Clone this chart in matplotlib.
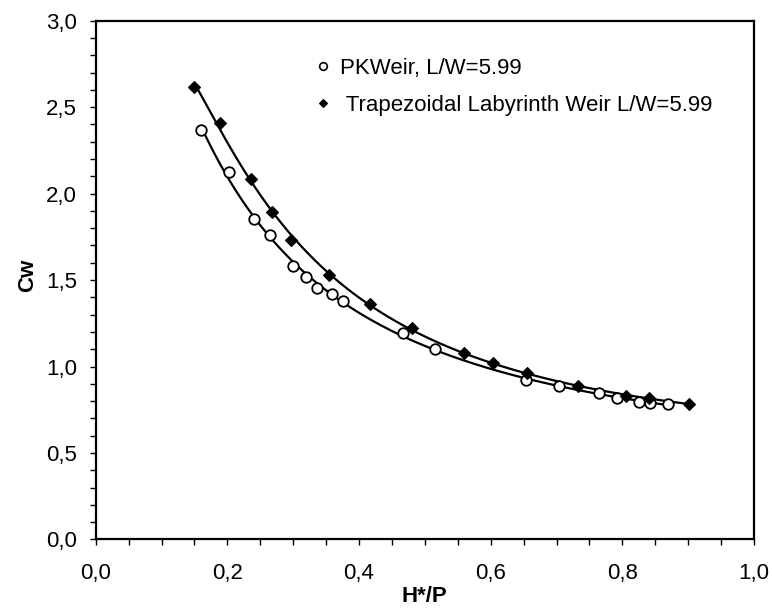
import numpy as np
import matplotlib
matplotlib.use("Agg")
import matplotlib.pyplot as plt
from matplotlib.ticker import MultipleLocator, FuncFormatter
from matplotlib.lines import Line2D

plt.rcParams['font.family'] = ['Liberation Sans', 'DejaVu Sans']

# PK Weir, L/W = 5.99  (open circles)
pk_x = [0.160, 0.202, 0.241, 0.265, 0.300, 0.320, 0.336, 0.359, 0.376,
        0.467, 0.516, 0.654, 0.703, 0.765, 0.792, 0.825, 0.842, 0.870]
pk_y = [2.368, 2.127, 1.855, 1.763, 1.584, 1.520, 1.457, 1.419, 1.378,
        1.193, 1.102, 0.922, 0.888, 0.846, 0.817, 0.797, 0.788, 0.785]

# Trapezoidal Labyrinth Weir, L/W = 5.99  (filled diamonds)
tr_x = [0.150, 0.189, 0.236, 0.268, 0.297, 0.354, 0.416, 0.480, 0.559,
        0.603, 0.655, 0.732, 0.805, 0.840, 0.901]
tr_y = [2.615, 2.407, 2.083, 1.894, 1.732, 1.528, 1.362, 1.221, 1.077,
        1.019, 0.965, 0.888, 0.830, 0.817, 0.784]

labels = ["PKWeir, L/W=5.99", " Trapezoidal Labyrinth Weir L/W=5.99"]
x_label = "H*/P"
y_label = "Cw"


def trend(xs, ys, deg=3, n=300):
    """Smooth trend curve fitted to the points (log-log polynomial)."""
    lx, ly = np.log(xs), np.log(ys)
    c = np.polyfit(lx, ly, deg)
    gx = np.linspace(min(xs), max(xs), n)
    return gx, np.exp(np.polyval(c, np.log(gx)))


fig = plt.figure(figsize=(7.72, 6.08), dpi=100)
ax = fig.add_axes([0.124, 0.1127, 0.8527, 0.8533])

for xs, ys in [(pk_x, pk_y), (tr_x, tr_y)]:
    gx, gy = trend(xs, ys)
    ax.plot(gx, gy, color='black', lw=1.6, zorder=2)

ax.plot(pk_x, pk_y, linestyle='none', marker='o', markersize=7.6,
        markerfacecolor='white', markeredgecolor='black', markeredgewidth=1.3,
        zorder=3)
ax.plot(tr_x, tr_y, linestyle='none', marker='D', markersize=6.0,
        markerfacecolor='black', markeredgecolor='black', markeredgewidth=0.8,
        zorder=4)

ax.set_xlim(0, 1.0)
ax.set_ylim(0, 3.0)
ax.xaxis.set_major_locator(MultipleLocator(0.2))
ax.xaxis.set_minor_locator(MultipleLocator(0.05))
ax.yaxis.set_major_locator(MultipleLocator(0.5))
ax.yaxis.set_minor_locator(MultipleLocator(0.1))
fmt = FuncFormatter(lambda v, pos: f"{v:.1f}".replace('.', ','))
ax.xaxis.set_major_formatter(fmt)
ax.yaxis.set_major_formatter(fmt)

ax.tick_params(axis='both', which='both', direction='out', length=4.6,
               width=1.0, color='black', top=False, right=False)
ax.tick_params(axis='both', which='major', labelsize=16)
ax.tick_params(axis='x', which='major', pad=12)
ax.tick_params(axis='y', which='major', pad=9)
for s in ax.spines.values():
    s.set_linewidth(1.6)
    s.set_color('black')

ax.set_xlabel(x_label, fontsize=16, fontweight='bold')
ax.set_ylabel(y_label, fontsize=16, fontweight='bold')
ax.xaxis.set_label_coords(0.5, -0.089)
ax.yaxis.set_label_coords(-0.087, 0.51)

handles = [
    Line2D([], [], linestyle='none', marker='o', markersize=5.5,
           markerfacecolor='white', markeredgecolor='black', markeredgewidth=1.2),
    Line2D([], [], linestyle='none', marker='D', markersize=4.4,
           markerfacecolor='black', markeredgecolor='black', markeredgewidth=0.8),
]
ax.legend(handles, labels, loc='upper left', bbox_to_anchor=(0.331, 0.928),
          frameon=False, fontsize=16, handlelength=0.8, handletextpad=0.38,
          borderpad=0, borderaxespad=0, labelspacing=0.7)

fig.savefig("out.png", dpi=100)
